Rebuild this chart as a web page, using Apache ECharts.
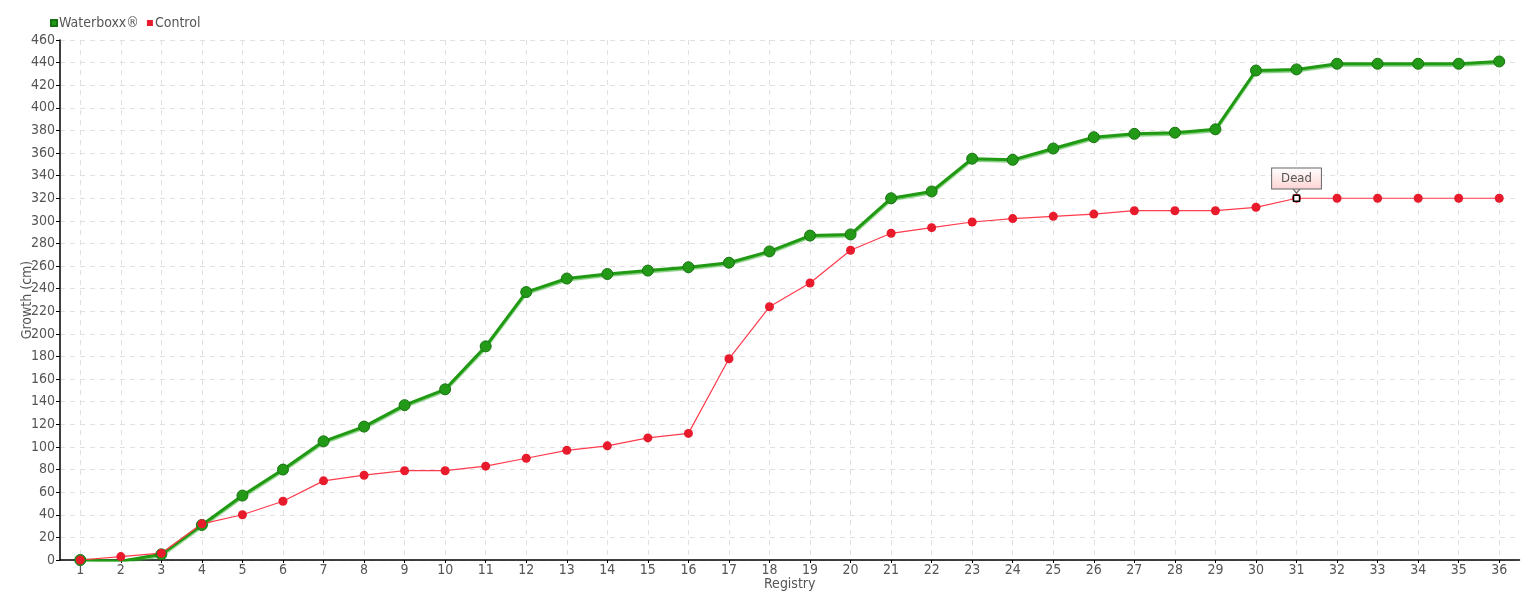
<!DOCTYPE html>
<html>
<head>
<meta charset="utf-8">
<script src="https://cdn.jsdelivr.net/npm/echarts@6/dist/echarts.min.js"></script>
<style>
html,body{margin:0;padding:0;background:#fff;}
#chart{width:1540px;height:600px;}
</style>
</head>
<body>
<div id="chart"></div>
<script>
const categories = ['1','2','3','4','5','6','7','8','9','10','11','12','13','14','15','16','17','18','19','20','21','22','23','24','25','26','27','28','29','30','31','32','33','34','35','36'];
const waterboxx = [0,-1,5,31,57,80,105,118,137,151,189,237,249,253,256,259,263,273,287,288,320,326,355,354,364,374,377,378,381,433,434,439,439,439,439,441];
const control = [0,3,6,32,40,52,70,75,79,79,83,90,97,101,108,112,178,224,245,274,289,294,299,302,304,306,309,309,309,312,320,320,320,320,320,320];
const seriesNames = ['Waterboxx®','Control'];
const deadLabel = {category:'31', value:320, text:'Dead'};

// pick an installed narrow font
function installed(fam){
  const c=document.createElement('canvas').getContext('2d');
  const s='Waterboxx® Registry 0123456789';
  c.font='40px monospace'; const w1=c.measureText(s).width;
  c.font='40px "'+fam+'", monospace'; const w2=c.measureText(s).width;
  c.font='40px serif'; const w3=c.measureText(s).width;
  c.font='40px "'+fam+'", serif'; const w4=c.measureText(s).width;
  return w1!==w2 || w3!==w4;
}
const candidates=['Liberation Sans Narrow','DejaVu Sans Condensed','Roboto Condensed','Open Sans Condensed','Liberation Sans'];
let FAM='Liberation Sans';
for(const f of candidates){ if(installed(f)){FAM=f;break;} }
const FONT='"'+FAM+'", sans-serif';
const TXT = '#555';
const FS = FAM==='Liberation Sans Narrow' ? 16 : 14;

const chart = echarts.init(document.getElementById('chart'), null, {renderer:'canvas'});
chart.setOption({
  animation:false,
  textStyle:{fontFamily:FONT},
  legend:{
    left:45, top:11, itemWidth:6, itemHeight:6, itemGap:8,
    icon:'rect',
    textStyle:{fontFamily:FONT, fontSize:FS, color:TXT, padding:[0,0,0,-3]},
    data:seriesNames
  },
  grid:{left:60, right:20.5, top:40, bottom:40, containLabel:false, outerBoundsMode:'none'},
  xAxis:{
    type:'category', data:categories, boundaryGap:true,
    name:'Registry', nameLocation:'middle', nameGap:17, nameMoveOverlap:false,
    nameTextStyle:{fontFamily:FONT, fontSize:FS, color:TXT},
    axisLine:{lineStyle:{color:'#000', width:1.5}},
    axisTick:{show:true, alignWithLabel:true, length:3, lineStyle:{color:'#000'}},
    axisLabel:{fontFamily:FONT, fontSize:FS, color:TXT, margin:3, interval:0},
    splitLine:{show:true, alignWithLabel:true, lineStyle:{color:'#e0e0e0', type:[5,5], width:1}}
  },
  yAxis:{
    type:'value', min:0, max:460, interval:20,
    name:'Growth (cm)', nameLocation:'middle', nameGap:26, nameMoveOverlap:false,
    nameTextStyle:{fontFamily:FONT, fontSize:FS, color:TXT},
    axisLine:{show:true, lineStyle:{color:'#000', width:1.5}},
    axisTick:{show:true, length:4, lineStyle:{color:'#000'}},
    axisLabel:{fontFamily:FONT, fontSize:FS, color:TXT, margin:5},
    splitLine:{show:true, lineStyle:{color:'#e0e0e0', type:[5,5], width:1}}
  },
  series:[
    {
      name:seriesNames[0], type:'line', data:waterboxx,
      symbol:'circle', symbolSize:11,
      color:'#1f9a12',
      lineStyle:{color:'#1f9a12', width:3, shadowColor:'rgba(40,170,30,0.6)', shadowOffsetY:1.5, shadowBlur:1},
      itemStyle:{color:'#239a17', borderColor:'#17730f', borderWidth:1}
    },
    {
      name:seriesNames[1], type:'line', data:control,
      symbol:'circle', symbolSize:9,
      color:'#e81b2c',
      lineStyle:{color:'#ff3b4c', width:1.2},
      itemStyle:{color:'#e81b2c'},
      markPoint:{
        data:[
          {
            coord:[deadLabel.category, deadLabel.value],
            symbol:'rect', symbolSize:6,
            itemStyle:{color:'#fff', borderColor:'#000', borderWidth:1.5},
            label:{
              show:true, position:'top', distance:6,
              formatter:deadLabel.text,
              fontFamily:FONT, fontSize:FS-1, color:TXT,
              backgroundColor:{type:'linear',x:0,y:0,x2:0,y2:1,colorStops:[{offset:0,color:'#ffffff'},{offset:1,color:'#fdd3d3'}]},
              borderColor:'#666', borderWidth:1, padding:[4,9,3,9]
            }
          },
          {
            coord:[deadLabel.category, deadLabel.value],
            symbol:'triangle', symbolRotate:180, symbolSize:[8,5], symbolOffset:[0,-7.5],
            itemStyle:{color:'#fde2e2', borderColor:'#666', borderWidth:1},
            label:{show:false}
          }
        ]
      }
    }
  ]
});
</script>
</body>
</html>
